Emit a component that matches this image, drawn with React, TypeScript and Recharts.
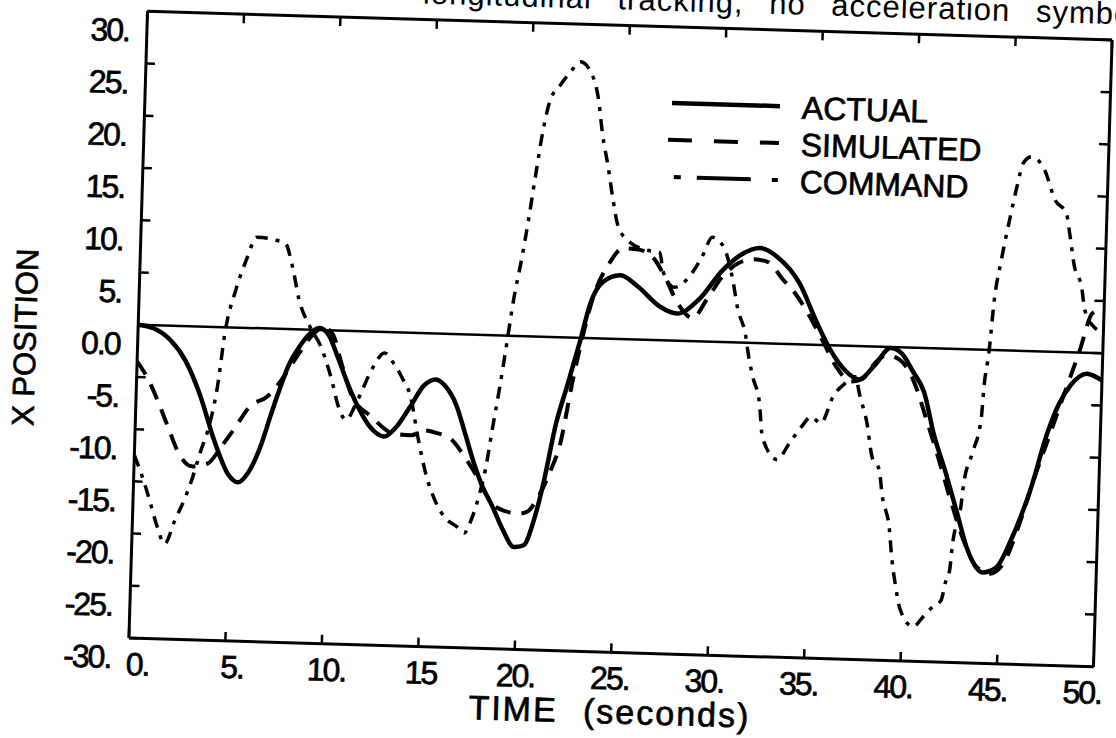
import React from 'react';
import { LineChart, Line, XAxis, YAxis, ReferenceLine, Legend } from 'recharts';

const FONT = '"Liberation Sans", Arial, Helvetica, sans-serif';

const xTicks = [0, 5, 10, 15, 20, 25, 30, 35, 40, 45, 50];
const xTickLabels = ['0.', '5.', '10.', '15', '20.', '25.', '30.', '35.', '40.', '45.', '50.'];
const yTicks = [-30, -25, -20, -15, -10, -5, 0, 5, 10, 15, 20, 25, 30];
const yTickLabels = ['-30.', '-25.', '-20.', '-15.', '-10.', '-5.', '0.0', '5.', '10.', '15.', '20.', '25.', '30.'];
const legendOrder = ['ACTUAL', 'SIMULATED', 'COMMAND'];

// [time (s), x position]
const actual: [number, number][] = [
  [0, 0], [0.8, -0.3], [1.7, -1.4], [2.5, -3.3], [3.3, -6.5], [4.1, -10.8], [4.9, -14.1], [5.4, -14.8],
  [5.9, -13.9], [6.5, -11.4], [7.0, -8.3], [7.4, -5.9], [7.8, -3.7], [8.4, -1.6], [9.0, -0.2], [9.4, 0.2],
  [9.9, -0.5], [10.4, -2.6], [11.0, -5.3], [11.5, -7.2], [12.2, -9.2], [12.9, -10.0], [13.5, -9.1], [14.2, -7.1],
  [14.9, -5.0], [15.5, -4.4], [16.0, -5.0], [16.6, -6.8], [17.1, -9.5], [17.6, -12.3], [18.1, -14.6], [18.6, -16.3],
  [19.2, -18.6], [19.8, -20.2], [20.3, -20.0], [20.8, -17.5], [21.2, -14.3], [21.8, -8.2], [22.3, -4.7], [22.9, -0.4],
  [23.4, 3.4], [24.0, 5.4], [24.9, 6.1], [25.8, 5.1], [27.0, 3.2], [27.9, 2.6], [29.0, 4.0], [30.2, 6.9],
  [31.2, 8.5], [32.1, 9.1], [33.0, 8.3], [34.2, 5.8], [35.1, 2.3], [35.9, -0.5], [36.7, -2.4], [37.4, -3.2],
  [38.2, -1.8], [39.0, -0.1], [39.6, -0.6], [40.2, -2.3], [40.8, -4.2], [41.4, -8.4], [42.0, -11.6], [42.7, -15.7],
  [43.3, -19.2], [44.1, -21.3], [44.8, -20.8], [45.6, -17.8], [46.5, -13.0], [47.2, -8.1], [47.8, -5.0], [48.4, -3.1],
  [49.2, -2.0], [50, -2.6],
];

const simulated: [number, number][] = [
  [0, -3.5], [0.6, -5.2], [1.1, -7.1], [1.7, -9.7], [2.3, -12.2], [3.0, -13.4], [3.8, -13.1], [4.5, -11.4],
  [5.2, -9.5], [5.9, -7.5], [6.8, -6.5], [7.5, -4.9], [8.3, -2.5], [9.0, -0.6], [9.6, 0.3], [10.1, -0.4],
  [10.6, -3.2], [11.2, -6.3], [12.2, -8.1], [13.4, -9.7], [14.3, -9.8], [15.0, -9.3], [15.6, -9.5], [16.4, -10.1],
  [17.1, -11.7], [17.8, -13.6], [18.6, -16.1], [19.3, -16.8], [20.0, -17.0], [20.5, -16.7], [20.9, -15.6], [21.6, -12.7],
  [22.0, -10.5], [22.6, -4.0], [23.0, -0.2], [23.5, 3.8], [24.3, 7.2], [25.0, 8.7], [25.8, 8.6], [26.5, 8.0],
  [27.2, 6.1], [27.9, 3.6], [28.7, 2.2], [29.4, 4.0], [30.2, 6.3], [31.0, 7.6], [31.8, 8.0], [32.5, 7.8],
  [33.3, 6.2], [34.0, 4.8], [34.8, 2.6], [35.5, 0.3], [36.2, -2.0], [37.0, -3.4], [37.6, -3.1], [38.3, -1.4],
  [38.8, -0.8], [39.5, -1.2], [40.2, -3.0], [41.0, -7.0], [41.7, -10.8], [42.4, -14.8], [43.1, -18.4], [43.8, -20.8],
  [44.5, -21.4], [45.2, -20.3], [45.9, -16.8], [46.7, -11.8], [47.4, -7.8], [48.1, -3.8], [48.8, 0.2], [49.4, 3.8],
  [50, 4.3],
];

const command: [number, number][] = [
  [0, -12.5], [0.5, -14.8], [0.9, -17.0], [1.3, -19.3], [1.7, -20.9], [2.2, -18.6], [2.7, -16.4], [3.06, -14.4],
  [3.4, -12.1], [3.9, -8.9], [4.2, -5.7], [4.5, -0.6], [5.0, 3.6], [5.5, 6.5], [6.0, 8.7], [6.95, 8.5],
  [7.5, 8.2], [7.9, 6.0], [8.3, 2.8], [8.9, 0.3], [9.5, -1.6], [10.1, -4.7], [10.5, -7.3], [10.9, -8.5],
  [11.5, -6.5], [12.2, -3.5], [12.8, -2.0], [13.3, -3.0], [13.8, -4.5], [14.2, -6.0], [14.65, -9.9], [15.07, -13.1],
  [15.7, -16.2], [16.3, -17.8], [16.8, -18.4], [17.2, -19.0], [17.55, -17.7], [17.9, -15.5], [18.2, -12.9], [18.5, -9.0],
  [18.8, -5.2], [19.1, -1.0], [19.4, 3.4], [19.75, 7.3], [20.05, 11.1], [20.35, 15.4], [20.65, 19.5], [21.0, 22.7],
  [21.45, 24.0], [22.0, 25.4], [22.5, 26.4], [23.1, 25.3], [23.5, 22.8], [23.75, 19.6], [24.1, 16.4], [24.4, 13.3],
  [24.7, 10.8], [25.2, 9.5], [26.15, 8.6], [26.9, 8.4], [27.1, 6.6], [27.7, 5.1], [28.6, 6.5], [29.1, 8.1],
  [29.6, 10.0], [30.2, 9.1], [30.8, 5.3], [31.0, 3.4], [31.45, 0.9], [31.7, -1.65], [31.9, -3.2], [32.3, -5.8],
  [32.5, -9.0], [33.3, -11.1], [33.9, -9.5], [34.5, -7.9], [35.0, -6.9], [35.5, -7.5], [36.1, -4.9], [36.7, -3.6],
  [37.2, -2.95], [37.5, -4.85], [37.9, -7.4], [38.2, -10.5], [38.6, -11.8], [38.8, -14.3], [39.2, -17.2], [39.4, -20.4],
  [39.6, -22.6], [39.9, -25.1], [40.6, -26.7], [41.1, -25.7], [41.6, -24.7], [42.0, -24.1], [42.2, -22.4], [42.4, -21.2],
  [42.5, -18.9], [42.9, -14.8], [43.0, -12.8], [43.4, -9.9], [43.8, -6.7], [43.9, -3.5], [44.1, -0.3], [44.3, 4.8],
  [44.6, 8.6], [45.0, 12.8], [45.3, 15.7], [45.6, 18.0], [46.0, 18.6], [46.7, 17.4], [47.3, 14.5], [47.9, 13.3],
  [48.1, 11.4], [48.4, 8.2], [48.8, 6.3], [49.0, 4.1], [49.5, 2.5], [50, 2.0],
];

const toRows = (pts: [number, number][]) => pts.map(([t, v]) => ({ t, v }));

const legendSamples: Record<string, { dash?: string; x1: number; width: number }> = {
  ACTUAL: { x1: 5, width: 4.5 },
  SIMULATED: { dash: '24 22', x1: 2, width: 4 },
  COMMAND: { dash: '7 16 54 21 7 60', x1: 9, width: 4 },
};

// heavier text, the scan makes every glyph look bold
const ink = { fill: '#000', stroke: '#000', strokeWidth: 0.7 };

function BottomTick({ x, y, payload }: any) {
  const t = payload.value;
  const label = xTickLabels[xTicks.indexOf(t)];
  return (
    <g>
      <line x1={x} y1={y} x2={x} y2={y - 9} stroke="#000" strokeWidth={2.5} />
      <text x={x + 9 - 0.4 * t} y={y + 37} textAnchor="middle" fontSize={32} fontFamily={FONT} letterSpacing={-2} {...ink}>
        {label}
      </text>
    </g>
  );
}

function TopTick({ x, y }: any) {
  return <line x1={x} y1={y} x2={x} y2={y + 9} stroke="#000" strokeWidth={2.5} />;
}

function LeftTick({ x, y, payload }: any) {
  const label = yTickLabels[yTicks.indexOf(payload.value)];
  return (
    <g>
      <line x1={x} y1={y} x2={x + 9} y2={y} stroke="#000" strokeWidth={2.5} />
      <text x={x - 18} y={y + 30.5} textAnchor="end" fontSize={32} fontFamily={FONT} letterSpacing={-2} {...ink}>
        {label}
      </text>
    </g>
  );
}

function RightTick({ x, y }: any) {
  return <line x1={x} y1={y} x2={x - 10} y2={y} stroke="#000" strokeWidth={2.5} />;
}

function LegendBox(props: any) {
  const items = [...(props.payload || [])].sort(
    (a: any, b: any) => legendOrder.indexOf(a.value) - legendOrder.indexOf(b.value)
  );
  return (
    <svg width={300} height={120} style={{ overflow: 'visible' }}>
      {items.map((item: any, i: number) => {
        const s = legendSamples[item.value];
        const y = 21.5 + i * 37;
        return (
          <g key={item.value}>
            <line x1={s.x1} x2={113} y1={y} y2={y} stroke="#000" strokeWidth={s.width} strokeDasharray={s.dash} />
            <text x={135} y={y + 12} fontSize={32} fontFamily={FONT} {...ink}>{item.value}</text>
          </g>
        );
      })}
    </svg>
  );
}

const renderTitle = (props: any) => {
  const vb = props.viewBox || { x: 138, y: 0 };
  return (
    <text x={vb.x + 275} y={vb.y + 9.5} fontSize={31} fontFamily={FONT} letterSpacing={1} wordSpacing={16} fill="#000">
      longitudinal tracking, no acceleration symbology
    </text>
  );
};

const renderXLabel = (props: any) => {
  const vb = props.viewBox || { x: 138, y: 652.5, width: 965 };
  return (
    <text x={vb.x + vb.width / 2} y={vb.y + 71} textAnchor="middle" fontSize={34} fontFamily={FONT} letterSpacing={2} wordSpacing={14} {...ink}>
      TIME (seconds)
    </text>
  );
};

const renderYLabel = (props: any) => {
  const vb = props.viewBox || { x: 0, y: 25.5, height: 627 };
  const cx = vb.x + 36;
  const cy = vb.y + vb.height / 2 + 16;
  return (
    <text x={cx} y={cy} transform={`rotate(-90 ${cx} ${cy})`} textAnchor="middle" fontSize={31} fontFamily={FONT} {...ink}>
      X POSITION
    </text>
  );
};

const axisLine = { stroke: '#000', strokeWidth: 3 };

export default function App() {
  return (
    <div style={{ position: 'fixed', left: 0, top: 0, width: 1116, height: 738, overflow: 'hidden', background: '#fff' }}>
      <style>{`.recharts-surface{overflow:visible}`}</style>
      <div
        style={{
          position: 'absolute',
          left: 0,
          top: 0,
          width: 1116,
          height: 738,
          transform: 'rotate(1.7deg)',
          transformOrigin: '620.5px 339px',
        }}
      >
        <LineChart width={1116} height={738} margin={{ top: 0, right: 0, bottom: 0, left: 0 }}>
          <XAxis
            xAxisId="bottom"
            orientation="bottom"
            type="number"
            dataKey="t"
            domain={[0, 50]}
            ticks={xTicks}
            interval={0}
            height={85.5}
            axisLine={axisLine}
            tickLine={false}
            tickSize={0}
            tickMargin={0}
            tick={BottomTick}
            label={renderXLabel}
            allowDataOverflow
          />
          <XAxis
            xAxisId="top"
            orientation="top"
            type="number"
            dataKey="t"
            domain={[0, 50]}
            ticks={xTicks}
            interval={0}
            height={25.5}
            axisLine={axisLine}
            tickLine={false}
            tickSize={0}
            tickMargin={0}
            tick={TopTick}
            label={renderTitle}
            allowDataOverflow
          />
          <YAxis
            yAxisId="left"
            orientation="left"
            type="number"
            domain={[-30, 30]}
            ticks={yTicks}
            interval={0}
            width={138}
            axisLine={axisLine}
            tickLine={false}
            tickSize={0}
            tickMargin={0}
            tick={LeftTick}
            label={renderYLabel}
            allowDataOverflow
          />
          <YAxis
            yAxisId="right"
            orientation="right"
            type="number"
            domain={[-30, 30]}
            ticks={yTicks}
            interval={0}
            width={13}
            axisLine={axisLine}
            tickLine={false}
            tickSize={0}
            tickMargin={0}
            tick={RightTick}
            allowDataOverflow
          />
          <ReferenceLine xAxisId="bottom" yAxisId="left" y={0} stroke="#000" strokeWidth={2.5} />
          <Legend
            layout="vertical"
            align="center"
            verticalAlign="middle"
            content={LegendBox}
            wrapperStyle={{ left: 660, top: 80, width: 300, height: 120 }}
          />
          <Line
            xAxisId="bottom"
            yAxisId="left"
            name="ACTUAL"
            data={toRows(actual)}
            dataKey="v"
            type="monotone"
            stroke="#000"
            strokeWidth={4.5}
            dot={false}
            activeDot={false}
            isAnimationActive={false}
          />
          <Line
            xAxisId="bottom"
            yAxisId="left"
            name="SIMULATED"
            data={toRows(simulated)}
            dataKey="v"
            type="monotone"
            stroke="#000"
            strokeWidth={4}
            strokeDasharray="16 11"
            dot={false}
            activeDot={false}
            isAnimationActive={false}
          />
          <Line
            xAxisId="bottom"
            yAxisId="left"
            name="COMMAND"
            data={toRows(command)}
            dataKey="v"
            type="monotone"
            stroke="#000"
            strokeWidth={3.5}
            strokeDasharray="12 8 4 8"
            dot={false}
            activeDot={false}
            isAnimationActive={false}
          />
        </LineChart>
      </div>
    </div>
  );
}
